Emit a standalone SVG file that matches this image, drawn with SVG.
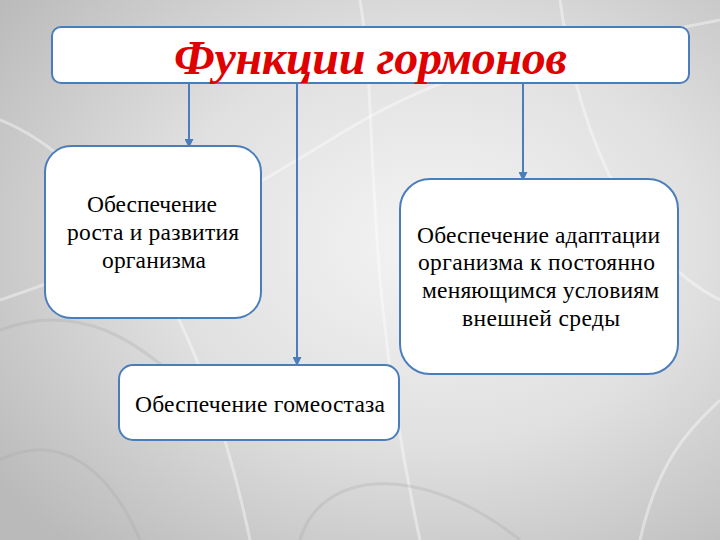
<svg xmlns="http://www.w3.org/2000/svg" width="720" height="540" viewBox="0 0 720 540">
<defs>
<radialGradient id="bg" cx="0.6" cy="0.45" r="0.75">
<stop offset="0" stop-color="#f4f4f4"/>
<stop offset="0.5" stop-color="#e0e0e0"/>
<stop offset="1" stop-color="#bababa"/>
</radialGradient>
<marker id="arr" markerWidth="9" markerHeight="9" refX="7" refY="4.5" orient="auto" markerUnits="userSpaceOnUse" viewBox="0 0 9 9">
<path d="M0,0 L9,4.5 L0,9 Z" fill="#4a7ebb"/>
</marker>
<style>
.box{fill:#ffffff;stroke:#4a7ebb;stroke-width:2}
.conn{stroke:#4a7ebb;stroke-width:2;fill:none}
.fib{fill:none;stroke:#ffffff;stroke-opacity:0.4;stroke-width:3}
.fibd{fill:none;stroke:#a8a8a8;stroke-opacity:0.3;stroke-width:3}
</style>
</defs>
<rect x="0" y="0" width="720" height="540" fill="url(#bg)"/>
<g id="background">
<path class="fib" d="M0,300 C120,260 200,220 330,140 S520,60 720,20"/>
<path class="fib" d="M360,0 C380,120 360,260 420,540"/>
<path class="fib" d="M0,120 C100,160 200,300 250,540"/>
<path class="fibd" d="M0,330 C80,300 140,340 200,400"/>
<path class="fib" d="M560,0 C580,150 640,260 720,300"/>
<path class="fibd" d="M300,540 C320,470 420,460 520,540"/>
<path class="fib" d="M640,540 C660,450 700,420 720,400"/>
<path class="fibd" d="M0,460 C60,430 110,470 140,540"/>
</g>
<g id="connectors">
<line class="conn" x1="189" y1="83" x2="189" y2="146" marker-end="url(#arr)"/>
<line class="conn" x1="297" y1="83" x2="297" y2="364" marker-end="url(#arr)"/>
<line class="conn" x1="523" y1="83" x2="523" y2="179" marker-end="url(#arr)"/>
</g>
<g id="title">
<rect class="box" x="52" y="27" width="637" height="56" rx="9"/>
<text x="174" y="74" font-family="Liberation Serif" font-size="48" font-weight="bold" font-style="italic" fill="#e00000" textLength="393">Функции гормонов</text>
</g>
<g id="growth">
<rect class="box" x="45" y="146" width="216" height="172" rx="26"/>
<text x="87" y="212" font-family="Liberation Serif" font-size="23.5" fill="#000" textLength="130">Обеспечение</text>
<text x="67" y="240" font-family="Liberation Serif" font-size="23.5" fill="#000" textLength="172">роста и развития</text>
<text x="102" y="268" font-family="Liberation Serif" font-size="23.5" fill="#000" textLength="104">организма</text>
</g>
<g id="adaptation">
<rect class="box" x="400" y="179" width="278" height="195" rx="30"/>
<text x="417" y="243" font-family="Liberation Serif" font-size="23.5" fill="#000" textLength="243">Обеспечение адаптации</text>
<text x="418" y="270" font-family="Liberation Serif" font-size="23.5" fill="#000" textLength="237">организма к постоянно</text>
<text x="422" y="298" font-family="Liberation Serif" font-size="23.5" fill="#000" textLength="237">меняющимся условиям</text>
<text x="462" y="326" font-family="Liberation Serif" font-size="23.5" fill="#000" textLength="158">внешней среды</text>
</g>
<g id="homeostasis">
<rect class="box" x="119" y="365" width="280" height="75" rx="14"/>
<text x="135" y="412" font-family="Liberation Serif" font-size="23.5" fill="#000" textLength="250">Обеспечение гомеостаза</text>
</g>
</svg>
